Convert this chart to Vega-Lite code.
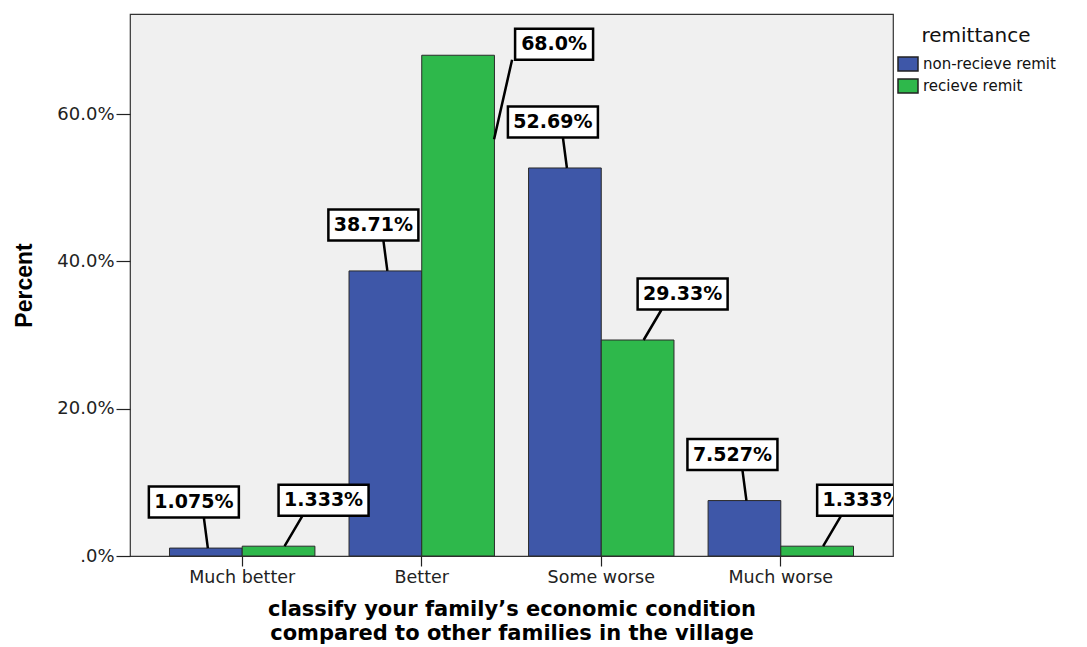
{
  "$schema": "https://vega.github.io/schema/vega-lite/v6.json",
  "width": 763,
  "height": 542,
  "autosize": {"type": "none"},
  "padding": {"left": 130, "top": 14, "right": 194, "bottom": 91},
  "background": "white",
  "config": {
    "view": {"fill": "#f0f0f0", "stroke": "#333333", "strokeWidth": 1.2},
    "font": "DejaVu Sans"
  },
  "data": {
    "values": [
      {"condition": "Much better", "remittance": "non-recieve remit", "percent": 1.075, "label": "1.075%"},
      {"condition": "Much better", "remittance": "recieve remit", "percent": 1.333, "label": "1.333%"},
      {"condition": "Better", "remittance": "non-recieve remit", "percent": 38.71, "label": "38.71%"},
      {"condition": "Better", "remittance": "recieve remit", "percent": 68.0, "label": "68.0%"},
      {"condition": "Some worse", "remittance": "non-recieve remit", "percent": 52.69, "label": "52.69%"},
      {"condition": "Some worse", "remittance": "recieve remit", "percent": 29.33, "label": "29.33%"},
      {"condition": "Much worse", "remittance": "non-recieve remit", "percent": 7.527, "label": "7.527%"},
      {"condition": "Much worse", "remittance": "recieve remit", "percent": 1.333, "label": "1.333%"}
    ]
  },
  "encoding": {
    "x": {
      "field": "condition",
      "type": "nominal",
      "sort": ["Much better", "Better", "Some worse", "Much worse"],
      "scale": {"paddingInner": 0.19, "paddingOuter": 0.22},
      "axis": {
        "title": ["classify your family’s economic condition", "compared to other families in the village"],
        "titleFont": "DejaVu Sans",
        "titleFontSize": 21,
        "titleFontWeight": "bold",
        "titleColor": "black",
        "titleLineHeight": 24,
        "titlePadding": 13,
        "labelFont": "DejaVu Sans",
        "labelFontSize": 17.5,
        "labelAngle": 0,
        "labelColor": "#222222",
        "labelPadding": 2,
        "tickSize": 10,
        "tickColor": "#222222",
        "tickWidth": 1.2,
        "domain": false,
        "grid": false
      }
    },
    "xOffset": {
      "field": "remittance",
      "type": "nominal",
      "sort": ["non-recieve remit", "recieve remit"],
      "scale": {"paddingInner": 0, "paddingOuter": 0}
    },
    "y": {
      "field": "percent",
      "type": "quantitative",
      "scale": {"domain": [0, 73.6], "nice": false, "zero": true},
      "axis": {
        "values": [0, 20, 40, 60],
        "labelExpr": "datum.value == 0 ? '.0%' : format(datum.value, '.1f') + '%'",
        "title": "Percent",
        "titleFont": "Liberation Sans",
        "titleFontSize": 23,
        "titleFontWeight": "bold",
        "titleColor": "black",
        "titlePadding": 20,
        "labelFont": "DejaVu Sans",
        "labelFontSize": 18,
        "labelColor": "#222222",
        "labelPadding": 2,
        "tickSize": 14,
        "tickColor": "#222222",
        "tickWidth": 1.2,
        "domain": false,
        "grid": false
      }
    }
  },
  "layer": [
    {
      "mark": {"type": "bar", "stroke": "#2a2a2a", "strokeWidth": 1},
      "encoding": {
        "color": {
          "field": "remittance",
          "type": "nominal",
          "scale": {"domain": ["non-recieve remit", "recieve remit"], "range": ["#3e57a8", "#2eb84b"]},
          "legend": {
            "title": "remittance",
            "orient": "none",
            "legendX": 767,
            "legendY": 12,
            "titleFont": "DejaVu Sans",
            "titleFontSize": 20,
            "titleFontWeight": "normal",
            "titleColor": "#111111",
            "titleAnchor": "middle",
            "titlePadding": 7,
            "labelFont": "DejaVu Sans",
            "labelFontSize": 15,
            "labelColor": "#111111",
            "labelOffset": 4,
            "symbolType": "M-1,-0.7H1V0.7H-1Z",
            "symbolSize": 400,
            "symbolStrokeColor": "#222222",
            "symbolStrokeWidth": 1.5,
            "symbolOpacity": 1,
            "rowPadding": 1
          }
        }
      }
    },
    {
      "mark": {
        "type": "point",
        "size": 4,
        "filled": true,
        "fill": "white",
        "fillOpacity": 1,
        "opacity": 1,
        "stroke": "black",
        "strokeWidth": 2.5,
        "strokeOpacity": 1,
        "clip": true,
        "shape": {"expr": "datum.percent > 60 ? 'M57,-26.5H135V4.5H57Z M36,84L54,4.5' : (datum.remittance == 'recieve remit' ? 'M0,-61.5H90V-30.5H0Z M6,0L24,-30.5' : 'M-57,-61.5H33V-30.5H-57Z M2,0L-2,-30.5')"}
      }
    },
    {
      "mark": {
        "type": "text",
        "font": "DejaVu Sans",
        "fontWeight": "bold",
        "fontSize": 19,
        "color": "black",
        "align": "center",
        "baseline": "middle",
        "clip": true,
        "dx": {"expr": "datum.percent > 60 ? 96 : (datum.remittance == 'recieve remit' ? 45 : -12)"},
        "dy": {"expr": "datum.percent > 60 ? -11 : -46"}
      },
      "encoding": {"text": {"field": "label"}}
    }
  ]
}
